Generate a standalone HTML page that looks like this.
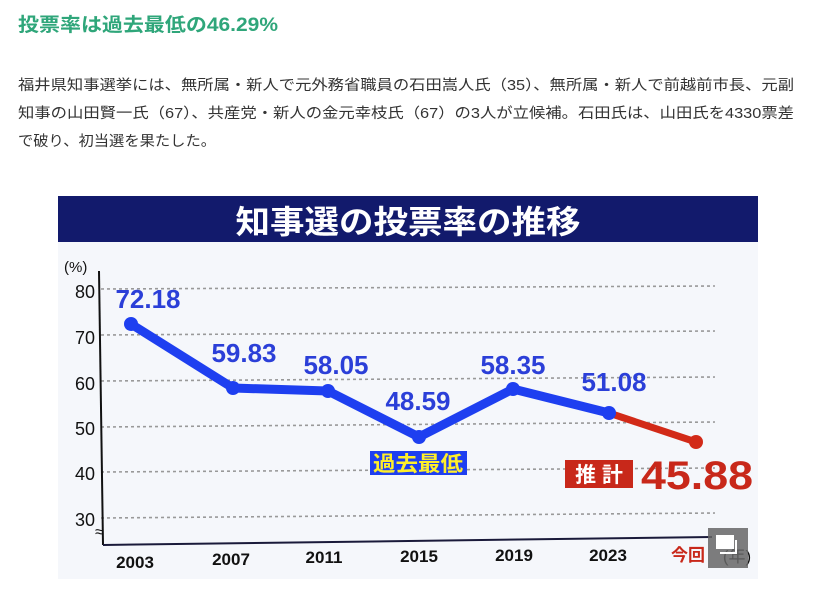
<!DOCTYPE html>
<html><head><meta charset="utf-8">
<style>
html,body{margin:0;padding:0;background:#fff;width:814px;height:589px;overflow:hidden}
svg{display:block}
</style></head>
<body>
<svg width="814" height="589" viewBox="0 0 814 589" xmlns="http://www.w3.org/2000/svg">
<g font-family="Liberation Sans, Noto Sans CJK JP, sans-serif">
<text x="18" y="31" font-size="19" font-weight="bold" fill="#2fa67a" textLength="260" lengthAdjust="spacingAndGlyphs">投票率は過去最低の46.29%</text>
<g font-size="14.5" fill="#333">
<text x="18" y="90" textLength="776" lengthAdjust="spacingAndGlyphs">福井県知事選挙には、無所属・新人で元外務省職員の石田嵩人氏（35）、無所属・新人で前越前市長、元副</text>
<text x="18" y="118" textLength="776" lengthAdjust="spacingAndGlyphs">知事の山田賢一氏（67）、共産党・新人の金元幸枝氏（67）の3人が立候補。石田氏は、山田氏を4330票差</text>
<text x="18" y="146" textLength="198" lengthAdjust="spacingAndGlyphs">で破り、初当選を果たした。</text>
</g>
<rect x="58" y="196" width="700" height="383" fill="#f5f7fb"/>
<rect x="58" y="196" width="700" height="46" fill="#121a6c"/>
<text x="408" y="233" font-size="32" font-weight="bold" fill="#fff" text-anchor="middle" textLength="345" lengthAdjust="spacingAndGlyphs">知事選の投票率の推移</text>
<g stroke="#999" stroke-width="1.6" stroke-dasharray="3,3">
<line x1="101" y1="289" x2="715" y2="286"/>
<line x1="101" y1="335" x2="715" y2="331"/>
<line x1="101" y1="381" x2="715" y2="377"/>
<line x1="101" y1="427" x2="715" y2="422"/>
<line x1="101" y1="472" x2="715" y2="468"/>
<line x1="101" y1="518" x2="715" y2="513"/>
</g>
<line x1="99" y1="271" x2="103" y2="545" stroke="#111" stroke-width="2"/>
<line x1="103" y1="545" x2="712" y2="537" stroke="#1a1a3a" stroke-width="2"/>
<text x="95" y="537" font-size="16" fill="#111">≈</text>
<g font-size="18" fill="#111" text-anchor="end">
<text x="64" y="272" text-anchor="start" font-size="15">(%)</text>
<text x="95" y="298">80</text>
<text x="95" y="344">70</text>
<text x="95" y="390">60</text>
<text x="95" y="435">50</text>
<text x="95" y="480">40</text>
<text x="95" y="526">30</text>
</g>
<g font-size="17" font-weight="bold" fill="#111" text-anchor="middle">
<text x="135" y="568">2003</text>
<text x="231" y="565">2007</text>
<text x="324" y="563">2011</text>
<text x="419" y="562">2015</text>
<text x="514" y="561">2019</text>
<text x="608" y="561">2023</text>
<text x="688" y="561" fill="#c8281a">今回</text>
<text x="737" y="562" font-weight="normal">(年)</text>
</g>
<polyline points="131,324 233,388 328,391 419,437 513,389 609,413" fill="none" stroke="#1e3ff0" stroke-width="9" stroke-linejoin="round"/>
<line x1="609" y1="413" x2="696" y2="442" stroke="#d22a18" stroke-width="7"/>
<g fill="#1e3ff0">
<circle cx="131" cy="324" r="7"/><circle cx="233" cy="388" r="7"/><circle cx="328" cy="391" r="7"/>
<circle cx="419" cy="437" r="7"/><circle cx="513" cy="389" r="7"/><circle cx="609" cy="413" r="7"/>
</g>
<circle cx="696" cy="442" r="7" fill="#d22a18"/>
<g font-size="26" font-weight="bold" fill="#2b3fd8" text-anchor="middle">
<text x="148" y="308">72.18</text>
<text x="244" y="362">59.83</text>
<text x="336" y="374">58.05</text>
<text x="418" y="410">48.59</text>
<text x="513" y="374">58.35</text>
<text x="614" y="391">51.08</text>
</g>
<rect x="370" y="451" width="97" height="24" fill="#1e3ff0"/>
<text x="418" y="471" font-size="21" font-weight="bold" fill="#ffef2a" text-anchor="middle" textLength="90" lengthAdjust="spacingAndGlyphs">過去最低</text>
<rect x="565" y="460" width="68" height="28" fill="#c8281a"/>
<text x="599" y="482" font-size="21" font-weight="bold" fill="#fff" text-anchor="middle">推 計</text>
<text x="641" y="489" font-size="40" font-weight="bold" fill="#c8281a" textLength="112" lengthAdjust="spacingAndGlyphs">45.88</text>
<rect x="708" y="528" width="40" height="40" fill="#666" opacity="0.85"/>
<rect x="716" y="535" width="18" height="14" fill="#fff"/>
<path d="M736 540 V553 H720" fill="none" stroke="#fff" stroke-width="2"/>
</g>
</svg>
</body></html>
